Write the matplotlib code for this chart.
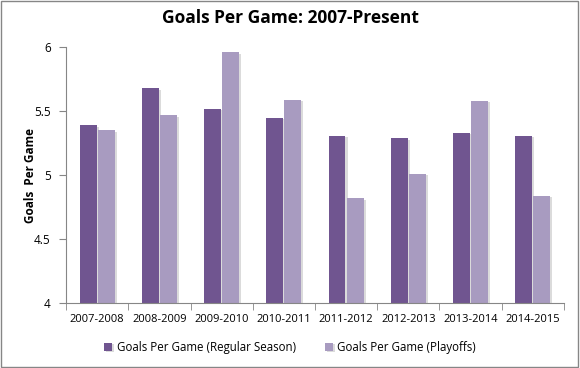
import matplotlib
matplotlib.use("Agg")
import matplotlib.pyplot as plt
import matplotlib.patheffects as pe
import numpy as np

seasons = ["2007-2008", "2008-2009", "2009-2010", "2010-2011",
           "2011-2012", "2012-2013", "2013-2014", "2014-2015"]
regular = [5.39, 5.68, 5.52, 5.45, 5.31, 5.29, 5.33, 5.31]
playoffs = [5.35, 5.47, 5.96, 5.59, 4.82, 5.01, 5.58, 4.84]

plt.rcParams['font.family'] = ['Open Sans', 'DejaVu Sans']

fig = plt.figure(figsize=(5.8, 3.68), dpi=100)
ax = fig.add_axes([0.1138, 0.1758, 0.8586, 0.6957])

x = np.arange(len(seasons))
w = 0.27
dark = "#705590"
light = "#a89bc0"
shadow = [pe.SimplePatchShadow(offset=(1.5, -1), shadow_rgbFace='#999999', alpha=0.35), pe.Normal()]
b1 = ax.bar(x - w/2 - 0.01, [r - 4 for r in regular], w, bottom=4, color=dark,
            label="Goals Per Game (Regular Season)", path_effects=shadow)
b2 = ax.bar(x + w/2 + 0.01, [p - 4 for p in playoffs], w, bottom=4, color=light,
            label="Goals Per Game (Playoffs)", path_effects=shadow)

ax.set_ylim(4, 6)
ax.set_xlim(-0.5, len(seasons) - 0.5)
ax.set_yticks([4, 4.5, 5, 5.5, 6])
ax.set_yticklabels(["4", "4.5", "5", "5.5", "6"])
ax.set_xticks(x)
ax.set_xticklabels(seasons)
ax.set_xticks(np.arange(-0.5, len(seasons), 1), minor=True)
ax.tick_params(axis='x', which='major', length=0, pad=8, labelsize=8)
ax.tick_params(axis='x', which='minor', length=5, color='#868686', direction='out')
ax.tick_params(axis='y', length=5, color='#868686', labelsize=8.5, pad=6)
for s in ['top', 'right']:
    ax.spines[s].set_visible(False)
for s in ['left', 'bottom']:
    ax.spines[s].set_color('#868686')

ax.set_ylabel("Goals  Per Game", fontsize=8.5, fontweight='bold', labelpad=-2)
fig.suptitle("Goals Per Game: 2007-Present", fontsize=12.5, fontweight='bold', y=0.975)

fig.legend(handles=[b1, b2], loc='lower center', ncol=2, frameon=False,
           fontsize=8.3, bbox_to_anchor=(0.5, 0.01), handlelength=0.7, handleheight=0.7,
           columnspacing=2.5, handletextpad=0.4)

border = plt.Rectangle((0.002, 0.003), 0.995, 0.994, transform=fig.transFigure,
                       fill=False, edgecolor='#868686', linewidth=1)
fig.patches.append(border)

fig.savefig("out.png", dpi=100)
